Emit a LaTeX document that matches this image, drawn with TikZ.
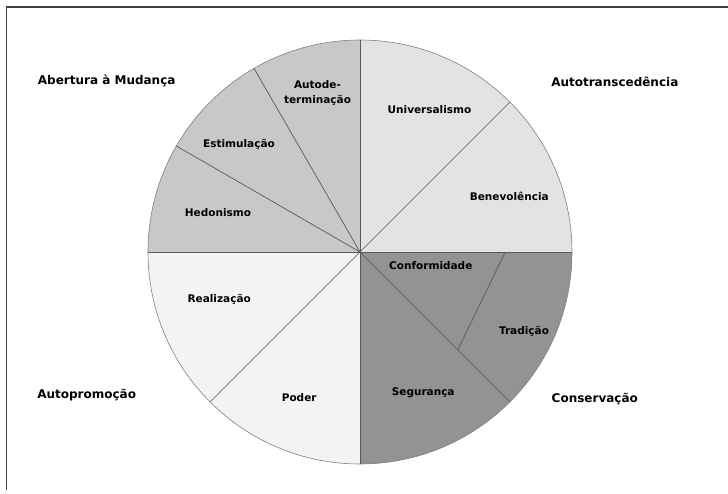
\documentclass[tikz,border=0pt]{standalone}
\usepackage{fontspec}
\setmainfont{DejaVu Sans}
\usetikzlibrary{positioning}

\definecolor{abertura}{HTML}{C8C8C8}
\definecolor{transc}{HTML}{E3E3E3}
\definecolor{promo}{HTML}{F3F3F3}
\definecolor{conserv}{HTML}{939393}
\definecolor{linha}{HTML}{5A5A5A}

\tikzset{
  valor/.style={font=\bfseries\fontsize{10.5}{14.5}\selectfont, align=center, inner sep=0pt},
  grupo/.style={font=\bfseries\fontsize{12}{14}\selectfont, inner sep=0pt},
  raio/.style={draw=linha, line width=0.7pt},
}

\begin{document}
\begin{tikzpicture}[x=1pt,y=1pt]
	\useasboundingbox[fill=white] (-360,-241) rectangle (368,252);

	% moldura
	\coordinate (m1) at (-353.5,-238);
	\coordinate (m2) at (-353.5,245);
	\coordinate (m3) at (368,245);
	\draw[line width=1.3pt, draw=black!75] (m1) -- (m2) -- (m3);

	% setores
	\coordinate (c) at (0,0);
	\fill[transc] (c) -- (0:212) arc (0:90:212) -- cycle;
	\fill[abertura] (c) -- (90:212) arc (90:180:212) -- cycle;
	\fill[promo] (c) -- (180:212) arc (180:270:212) -- cycle;
	\fill[conserv] (c) -- (270:212) arc (270:360:212) -- cycle;
	\draw[draw=black!50, line width=0.6pt] (c) circle (212);

	% divisoes
	\coordinate (p0) at (0:212);
	\coordinate (p45) at (45:212);
	\coordinate (p90) at (90:212);
	\coordinate (p120) at (120:212);
	\coordinate (p150) at (150:212);
	\coordinate (p180) at (180:212);
	\coordinate (p225) at (225:212);
	\coordinate (p270) at (270:212);
	\coordinate (p315) at (315:212);
	\coordinate (t1) at (145.3,0);
	\coordinate (t2) at (-45:138.3);

	\draw[raio] (c) -- (p0);
	\draw[raio] (c) -- (p45);
	\draw[raio] (c) -- (p90);
	\draw[raio] (c) -- (p120);
	\draw[raio] (c) -- (p150);
	\draw[raio] (c) -- (p180);
	\draw[raio] (c) -- (p225);
	\draw[raio] (c) -- (p270);
	\draw[raio] (c) -- (p315);
	\draw[raio] (t1) -- (t2);

	% valores
	\node[valor] (autodet) at (-42.5,159) {Autode-\\terminação};
	\node[valor] (estim) at (-121,108) {Estimulação};
	\node[valor] (hedon) at (-142,39) {Hedonismo};
	\node[valor] (univ) at (69.5,142.7) {Universalismo};
	\node[valor] (benev) at (149.3,55.3) {Benevolência};
	\node[valor] (conform) at (70.8,-13.3) {Conformidade};
	\node[valor] (trad) at (164,-79.3) {Tradição};
	\node[valor] (segur) at (63.2,-141) {Segurança};
	\node[valor] (realiz) at (-140.8,-47.7) {Realização};
	\node[valor] (poder) at (-60.8,-146) {Poder};

	% grupos
	\node[grupo] (abert) at (-253.3,171) {Abertura à Mudança};
	\node[grupo] (autotr) at (254.8,170.3) {Autotranscedência};
	\node[grupo] (consv) at (234.8,-146.7) {Conservação};
	\node[grupo] (autopr) at (-273.3,-142.7) {Autopromoção};
\end{tikzpicture}
\end{document}
